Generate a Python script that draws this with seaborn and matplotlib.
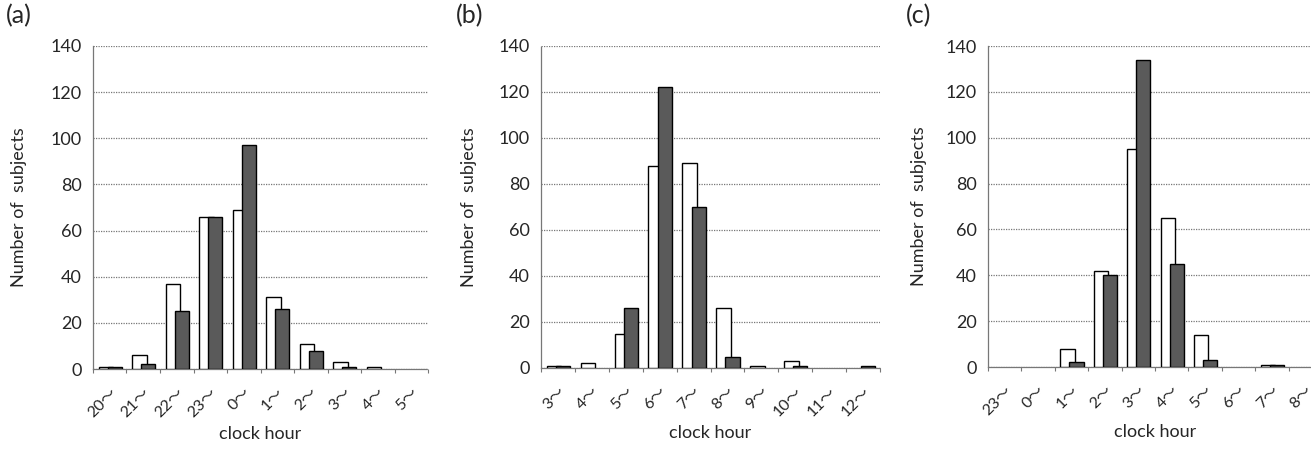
import numpy as np
import pandas as pd
import matplotlib
matplotlib.use("Agg")
import matplotlib.pyplot as plt
import seaborn as sns

# ---- data ----
hours_a = ["20〜", "21〜", "22〜", "23〜", "0〜", "1〜", "2〜", "3〜", "4〜", "5〜"]
white_a = [1, 6, 37, 66, 69, 31, 11, 3, 1, 0]
dark_a = [1, 2, 25, 66, 97, 26, 8, 1, 0, 0]

hours_b = ["3〜", "4〜", "5〜", "6〜", "7〜", "8〜", "9〜", "10〜", "11〜", "12〜"]
white_b = [1, 2, 15, 88, 89, 26, 1, 3, 0, 0]
dark_b = [1, 0, 26, 122, 70, 5, 0, 1, 0, 1]

hours_c = ["23〜", "0〜", "1〜", "2〜", "3〜", "4〜", "5〜", "6〜", "7〜", "8〜"]
white_c = [0, 0, 8, 42, 95, 65, 14, 0, 1, 0]
dark_c = [0, 0, 2, 40, 134, 45, 3, 0, 1, 0]

panel_labels = ["(a)", "(b)", "(c)"]
yticks = [0, 20, 40, 60, 80, 100, 120, 140]

sns.set_style("white")
plt.rcParams["font.family"] = ["Lato", "Noto Sans CJK JP", "DejaVu Sans"]

W, H = 1311, 449
fig = plt.figure(figsize=(W / 100, H / 100), dpi=100)

# axes boxes in pixels: left, right, top, bottom
boxes = [(93, 428, 46, 369), (541, 880, 46, 368), (988, 1322, 46, 367)]
ylab_x = [19, 469, 919]
plab_x = [6, 456, 906]

panels = [(hours_a, white_a, dark_a), (hours_b, white_b, dark_b), (hours_c, white_c, dark_c)]
DARK = "#5a5a5a"

for k, ((hours, wv, dv), (l, r, t, b)) in enumerate(zip(panels, boxes)):
    ax = fig.add_axes([l / W, 1 - b / H, (r - l) / W, (b - t) / H])
    n = len(hours)
    idx = np.arange(n)
    df_w = pd.DataFrame({"pos": idx - 0.115, "val": wv})
    df_d = pd.DataFrame({"pos": idx + 0.15, "val": dv})
    sns.barplot(data=df_w, x="pos", y="val", native_scale=True, width=0.43,
                color="white", edgecolor="black", linewidth=1.0, ax=ax, zorder=3,
                errorbar=None)
    sns.barplot(data=df_d, x="pos", y="val", native_scale=True, width=0.42,
                color=DARK, edgecolor="black", linewidth=1.0, ax=ax, zorder=4,
                errorbar=None)
    for p in ax.patches[:n]:
        p.set_facecolor("white")
    for p in ax.patches[n:]:
        p.set_facecolor(DARK)
    for p in ax.patches:
        if p.get_height() == 0:
            p.set_visible(False)

    ax.set_xlim(-0.5, n - 0.5)
    ax.set_ylim(0, 140)
    ax.set_yticks(yticks)
    ax.set_yticklabels([str(v) for v in yticks], fontsize=13)
    ax.set_xticks(idx)
    ax.set_xticklabels(hours, rotation=45, ha="right", rotation_mode="anchor",
                       fontsize=11.5)
    ax.set_xticks(np.arange(n + 1) - 0.5, minor=True)
    ax.tick_params(axis="x", which="major", length=0, pad=12)
    ax.tick_params(axis="x", which="minor", length=3, width=0.8, color="#777777",
                   direction="out", bottom=True)
    ax.tick_params(axis="y", which="major", length=0, pad=8)
    ax.grid(axis="y", color="#777777", linestyle=(0, (1, 1)), linewidth=0.9, zorder=0)
    ax.set_axisbelow(True)
    for s in ["top", "right"]:
        ax.spines[s].set_visible(False)
    for s in ["left", "bottom"]:
        ax.spines[s].set_color("#777777")
        ax.spines[s].set_linestyle((0, (1, 1)))
        ax.spines[s].set_linewidth(0.9)
    ax.set_xlabel("clock hour", fontsize=13, labelpad=4)
    ax.set_ylabel("")
    fig.text(ylab_x[k] / W, 1 - ((t + b) / 2) / H, "Number of  subjects",
             rotation=90, ha="center", va="center", fontsize=13)
    fig.text(plab_x[k] / W, 1 - 4 / H, panel_labels[k], ha="left", va="top",
             fontsize=18)

fig.savefig("out.png", dpi=100)
